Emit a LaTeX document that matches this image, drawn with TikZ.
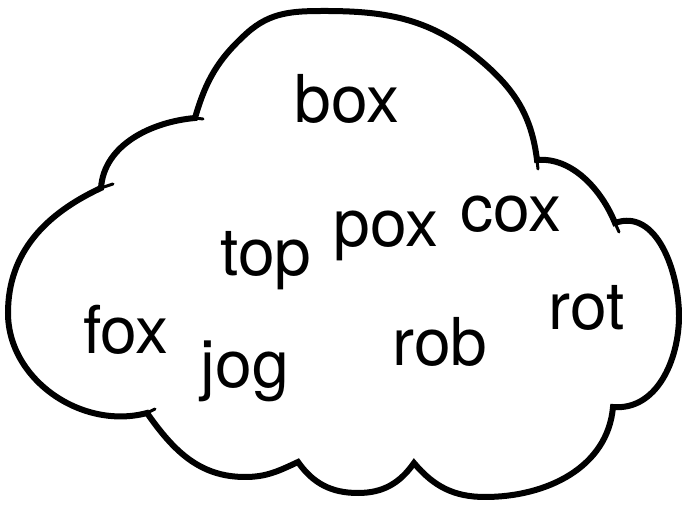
\documentclass[tikz,border=0pt]{standalone}
\usepackage{fontspec}
\setmainfont{TeX Gyre Heros}
\begin{document}
\begin{tikzpicture}[x=1pt,y=1pt,
  cloudline/.style={line width=6pt,line join=miter,line cap=round},
  tail/.style={line width=3pt,line cap=round},
  word/.style={anchor=base,inner sep=0pt,font=\fontsize{66}{66}\selectfont}]
\useasboundingbox (0,0) rectangle (682,508);
\coordinate (A) at (195,390);
\coordinate (B) at (537,348);
\coordinate (C) at (615,285);
\coordinate (D) at (613,101);
\coordinate (E) at (414,45);
\coordinate (F) at (298,46);
\coordinate (G) at (147,95);
\coordinate (H) at (101,320);
\draw[cloudline] (A) to[out=74,in=222] (247,475) to[out=42,in=180] (325,497)
  to[out=0,in=140] (480,448) to[out=-40,in=97] (B)
  to[out=5,in=112,looseness=0.9] (C)
  to[out=20,in=90] (679,192) to[out=-90,in=-5] (D)
  to[out=-95,in=0] (485,11) to[out=180,in=-50] (E)
  to[out=-125,in=0] (358,15) to[out=180,in=-55] (F)
  to[out=-155,in=0] (245,31) to[out=180,in=-55] (G)
  to[out=195,in=-90] (8,195) to[out=90,in=205] (H)
  to[out=86,in=185,looseness=0.95] (A) -- cycle;
\draw[tail] (A) -- (203,389);
\draw[tail] (H) -- (113,324);
\draw[tail] (B) -- (538,339);
\draw[tail] (C) -- (619,276);
\draw[tail] (G) -- (155,99);
\node[word] (box) at (347,385) {box};
\node[word] (pox) at (386,261) {pox};
\node[word] (cox) at (511,276) {cox};
\node[word] (top) at (266,232) {top};
\node[word] (fox) at (126,154) {fox};
\node[word] (jog) at (245,120) {jog};
\node[word] (rob) at (440,142) {rob};
\node[word] (rot) at (587,178) {rot};
\end{tikzpicture}
\end{document}
